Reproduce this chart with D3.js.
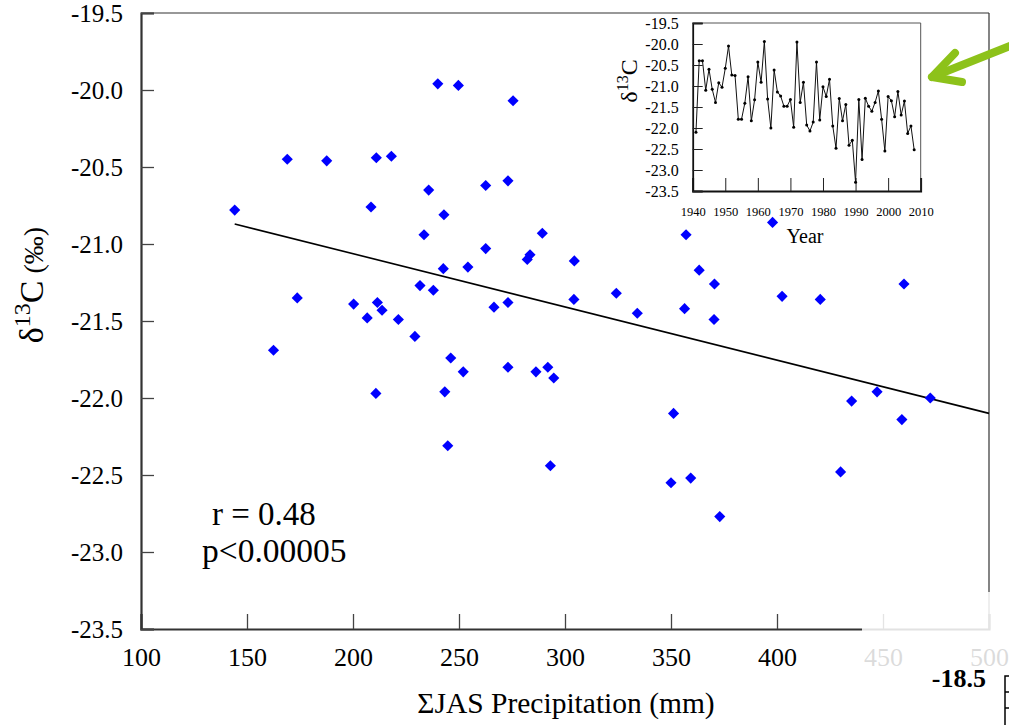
<!DOCTYPE html>
<html><head><meta charset="utf-8">
<script src="https://cdn.jsdelivr.net/npm/d3@7"></script>
<style>
body{margin:0;background:#fff}
svg{display:block}
svg text{font-family:"Liberation Serif","Tinos","Times New Roman",Times,"Nimbus Roman","DejaVu Serif",serif !important;fill:#000}
</style>
</head><body>
<svg id="c" width="1009" height="725"></svg>
<script>
// ---- main scatter data: ΣJAS precipitation (mm) vs δ13C (‰)
const precip = [144.2,169.0,187.6,211.0,218.1,235.7,208.5,242.9,233.5,242.6,231.6,237.9,173.7,200.3,211.5,213.7,206.7,221.4,240.0,249.7,275.5,262.6,273.1,289.3,262.6,283.5,282.2,304.4,254.2,266.5,273.1,304.2,324.2,334.1,356.4,363.3,370.5,357.1,370.3,402.4,420.4,459.9,397.9,246.1,252.0,273.1,286.3,291.9,294.7,243.3,244.7,293.1,351.2,350.0,359.3,373.0,430.0,435.2,447.2,458.9,472.3,162.5,210.8,229.2];
const d13c   = [-20.78,-20.45,-20.46,-20.44,-20.43,-20.65,-20.76,-20.81,-20.94,-21.16,-21.27,-21.30,-21.35,-21.39,-21.38,-21.43,-21.48,-21.49,-19.96,-19.97,-20.07,-20.62,-20.59,-20.93,-21.03,-21.07,-21.10,-21.11,-21.15,-21.41,-21.38,-21.36,-21.32,-21.45,-21.42,-21.17,-21.26,-20.94,-21.49,-21.34,-21.36,-21.26,-20.86,-21.74,-21.83,-21.80,-21.83,-21.80,-21.87,-21.96,-22.31,-22.44,-22.10,-22.55,-22.52,-22.77,-22.48,-22.02,-21.96,-22.14,-22.00,-21.69,-21.97,-21.60];
// regression line end points
const fitX = [144.2, 500];
const fitY = [-20.87, -22.10];
// axis ticks
const xTicks = [100,150,200,250,300,350,400,450,500];
const yTicks = [-19.5,-20.0,-20.5,-21.0,-21.5,-22.0,-22.5,-23.0,-23.5];
const statsText = ["r = 0.48", "p<0.00005"];

// ---- inset time series
const years = [1941,1942,1943,1944,1945,1946,1947,1948,1949,1950,1951,1952,1953,1954,1955,1956,1957,1958,1959,1960,1961,1962,1963,1964,1965,1966,1967,1968,1969,1970,1971,1972,1973,1974,1975,1976,1977,1978,1979,1980,1981,1982,1983,1984,1985,1986,1987,1988,1989,1990,1991,1992,1993,1994,1995,1996,1997,1998,1999,2000,2001,2002,2003,2004,2005,2006,2007,2008];
const series = [-22.10,-20.40,-20.40,-21.10,-20.60,-21.08,-21.39,-20.92,-21.03,-20.58,-20.05,-20.74,-20.75,-21.79,-21.79,-21.41,-20.78,-21.83,-21.33,-20.43,-20.91,-19.94,-21.31,-22.00,-20.62,-21.14,-21.24,-21.48,-21.48,-21.32,-21.98,-19.95,-21.39,-20.91,-21.93,-22.07,-21.86,-20.43,-21.81,-21.02,-21.25,-20.84,-21.95,-22.48,-21.30,-21.83,-21.44,-22.41,-22.29,-23.29,-21.32,-22.75,-21.29,-21.48,-21.60,-21.39,-21.12,-21.79,-22.55,-21.25,-21.35,-21.73,-21.13,-21.69,-21.36,-22.13,-21.95,-22.52];
const insetXTicks = [1940,1950,1960,1970,1980,1990,2000,2010];
const insetYTicks = [-19.5,-20.0,-20.5,-21.0,-21.5,-22.0,-22.5,-23.0,-23.5];

const svg = d3.select("#c");
const fmt1 = d => d.toFixed(1);

// ================= MAIN CHART =================
const x = d3.scaleLinear().domain([100,500]).range([141,989]);
const y = d3.scaleLinear().domain([-23.5,-19.5]).range([629,13]);

svg.append("line").attr("x1",141).attr("x2",989).attr("y1",13).attr("y2",13).attr("stroke","#333").attr("stroke-width",1.2);
svg.append("line").attr("x1",989).attr("x2",989).attr("y1",13).attr("y2",629).attr("stroke","#333").attr("stroke-width",1.2);

const minorX = d3.range(0,41).map(i=>100+i*10).filter(v=>v%50!==0);
const minorY = d3.range(0,41).map(i=>-19.5-i*0.1).filter((v,i)=>i%5!==0);

const gx = svg.append("g").attr("transform","translate(0,629)");
gx.call(d3.axisBottom(x).tickValues(minorX).tickSize(-7).tickFormat(""));
gx.call(d3.axisBottom(x).tickValues(xTicks).tickSize(-15).tickPadding(19).tickFormat(d=>d));
gx.selectAll("text").attr("font-size",26);
const gy = svg.append("g").attr("transform","translate(141,0)");
gy.call(d3.axisLeft(y).tickValues(minorY).tickSize(-6).tickFormat(""));
gy.call(d3.axisLeft(y).tickValues(yTicks).tickSize(-13).tickPadding(18).tickFormat(fmt1));
gy.selectAll("text").attr("font-size",25);
[gx,gy].forEach(g=>{
  g.attr("font-family",null);
  g.selectAll(".domain").attr("stroke","#333").attr("stroke-width",2.2);
  g.selectAll(".tick line").attr("stroke","#444").attr("stroke-width",1.3);
});

svg.append("text").attr("x",566).attr("y",713).attr("text-anchor","middle")
  .attr("font-size",29.5).text("ΣJAS Precipitation (mm)");
const yt = svg.append("text").attr("transform","translate(43,285) rotate(-90)").attr("text-anchor","middle");
yt.append("tspan").attr("font-size",34).text("δ");
yt.append("tspan").attr("font-size",24).attr("dy",-13).text("13");
yt.append("tspan").attr("font-size",34).attr("dy",13).text("C");
yt.append("tspan").attr("font-size",28).text(" (‰)");

svg.append("line").attr("x1",x(fitX[0])).attr("y1",y(fitY[0])).attr("x2",x(fitX[1])).attr("y2",y(fitY[1]))
  .attr("stroke","#000").attr("stroke-width",1.6);

svg.append("text").attr("x",212).attr("y",525).attr("font-size",33).text(statsText[0]);
svg.append("text").attr("x",202).attr("y",562).attr("font-size",33.5).text(statsText[1]);

// ================= INSET =================
const xi = d3.scaleLinear().domain([1940,2010]).range([692.7,920.7]);
const yi = d3.scaleLinear().domain([-23.5,-19.5]).range([191,23]);
const ins = svg.append("g");
ins.append("line").attr("x1",692.7).attr("x2",920.7).attr("y1",23).attr("y2",23).attr("stroke","#555").attr("stroke-width",1);
ins.append("line").attr("x1",920.7).attr("x2",920.7).attr("y1",23).attr("y2",191).attr("stroke","#555").attr("stroke-width",1);
const minorYears = d3.range(0,36).map(i=>1940+i*2).filter(v=>v%10!==0);
const gix = ins.append("g").attr("transform","translate(0,191)");
gix.call(d3.axisBottom(xi).tickValues(minorYears).tickSize(-7).tickFormat(""));
gix.call(d3.axisBottom(xi).tickValues(insetXTicks).tickSize(-13).tickPadding(16).tickFormat(d=>d));
gix.selectAll("text").attr("font-size",12.5);
const giy = ins.append("g").attr("transform","translate(692.7,0)");
giy.call(d3.axisLeft(yi).tickValues(insetYTicks).tickSize(-10).tickPadding(14).tickFormat(fmt1));
giy.selectAll("text").attr("font-size",16);
[gix,giy].forEach(g=>{
  g.attr("font-family",null);
  g.selectAll(".domain").attr("stroke","#111").attr("stroke-width",1.8);
  g.selectAll(".tick line").attr("stroke","#222").attr("stroke-width",1);
});
ins.append("path").datum(years.map((yr,i)=>[yr,series[i]]))
  .attr("fill","none").attr("stroke","#111").attr("stroke-width",1)
  .attr("d",d3.line().x(d=>xi(d[0])).y(d=>yi(d[1])));
ins.selectAll("circle").data(years.map((yr,i)=>[yr,series[i]])).join("circle")
  .attr("cx",d=>xi(d[0])).attr("cy",d=>yi(d[1])).attr("r",1.5).attr("fill","#000");
ins.append("text").attr("x",805).attr("y",243).attr("text-anchor","middle").attr("font-size",20).text("Year");
const iyt = ins.append("text").attr("transform","translate(637,81) rotate(-90)").attr("text-anchor","middle");
iyt.append("tspan").attr("font-size",24).text("δ");
iyt.append("tspan").attr("font-size",16).attr("dy",-9).text("13");
iyt.append("tspan").attr("font-size",24).attr("dy",9).text("C");

// ================= SCATTER POINTS =================
svg.append("g").selectAll("path").data(precip.map((p,i)=>[p,d13c[i]])).join("path")
  .attr("transform",d=>`translate(${x(d[0])},${y(d[1])}) rotate(45)`)
  .attr("d",d3.symbol().type(d3.symbolSquare).size(62))
  .attr("fill","#0000ff");

// ================= OVERLAY / DECORATIONS =================
svg.append("rect").attr("x",862).attr("y",592).attr("width",147).attr("height",76)
  .attr("fill","#fff").attr("opacity",0.86);
svg.append("text").attr("x",986).attr("y",687).attr("text-anchor","end")
  .attr("font-size",26).attr("font-weight","bold").text("-18.5");
const bx = svg.append("g").attr("stroke","#000").attr("stroke-width",1.5).attr("fill","none");
bx.append("path").attr("d","M1012,676 H1005 V725");
bx.append("line").attr("x1",1005).attr("x2",1012).attr("y1",692).attr("y2",692);
bx.append("line").attr("x1",1005).attr("x2",1012).attr("y1",708).attr("y2",708);

const ar = svg.append("g").attr("stroke","#8dc21a").attr("stroke-width",8).attr("stroke-linecap","round").attr("stroke-linejoin","round").attr("fill","none");
ar.append("path").attr("d","M1015,44 L932,77");
ar.append("path").attr("d","M955,53 L932,77 L962,82");
</script>
</body></html>
